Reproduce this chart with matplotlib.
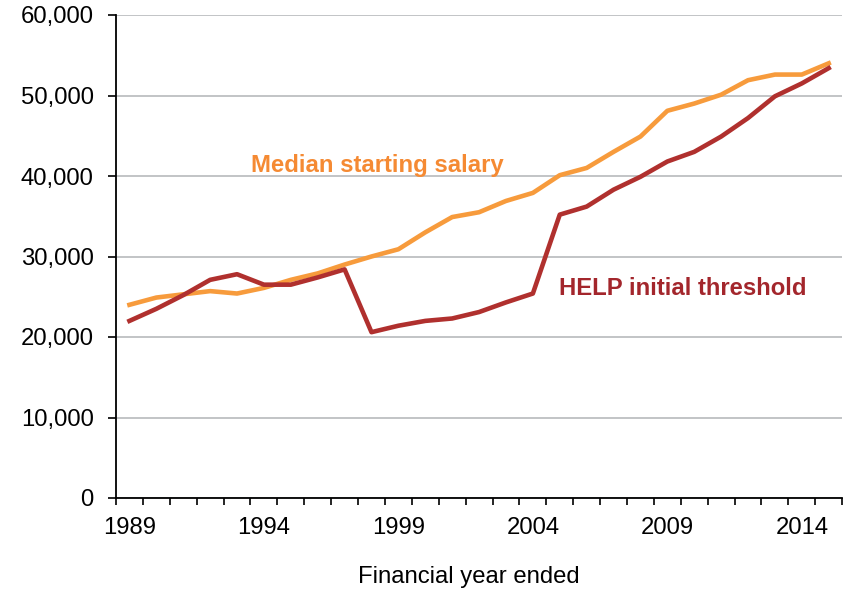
import matplotlib
matplotlib.use("Agg")
import matplotlib.pyplot as plt
from matplotlib.ticker import FuncFormatter, FixedLocator

years = list(range(1989, 2016))
median_salary = [24000, 24900, 25300, 25700, 25400, 26100, 27100, 27900, 29000, 30000,
                 30900, 33000, 34900, 35500, 36900, 37900, 40100, 41000, 43000, 44900,
                 48100, 49000, 50100, 51900, 52600, 52600, 54000]
help_threshold = [22000, 23500, 25200, 27100, 27800, 26500, 26500, 27400, 28400, 20600,
                  21400, 22000, 22300, 23100, 24300, 25400, 35200, 36200, 38300, 39900,
                  41800, 43000, 44900, 47200, 49900, 51500, 53400]
tick_labels = ["1989", "1994", "1999", "2004", "2009", "2014"]
y_ticks = [0, 10000, 20000, 30000, 40000, 50000, 60000]

plt.rcParams['font.family'] = ['Liberation Sans', 'DejaVu Sans']
FS = 17.2

fig = plt.figure(figsize=(8.43, 5.90), dpi=100)
ax = fig.add_axes([116/843, 1-498/590, 1-116/843-0.001, (498-15)/590])

idx = list(range(len(years)))
ax.plot(idx, median_salary, color="#F79B3C", lw=3.3, zorder=3)
ax.plot(idx, help_threshold, color="#B0302E", lw=3.3, zorder=3)

ax.set_xlim(-0.5, len(years) - 0.5)
ax.set_ylim(0, 60000)
ax.set_yticks(y_ticks)
ax.yaxis.set_major_formatter(FuncFormatter(lambda v, p: f"{int(v):,}"))
ax.grid(axis="y", color="#BDBFC2", lw=1.3, zorder=0)
ax.set_axisbelow(True)

label_pos = [years.index(int(t)) for t in tick_labels]
ax.xaxis.set_major_locator(FixedLocator(label_pos))
ax.set_xticklabels(tick_labels)
ax.xaxis.set_minor_locator(FixedLocator([i - 0.5 for i in range(len(years) + 1)]))
ax.tick_params(axis="x", which="major", length=0, pad=14, labelsize=FS)
ax.tick_params(axis="x", which="minor", length=5, width=1.2, direction="out")
ax.tick_params(axis="y", which="major", length=6, width=1.2, direction="out", pad=10, labelsize=FS)

for s in ["top", "right"]:
    ax.spines[s].set_visible(False)
for s in ["left", "bottom"]:
    ax.spines[s].set_linewidth(1.3)

fig.text(469/843, 1-577/590, "Financial year ended", ha="center", va="center", fontsize=FS)

ax.text(9.2, 40500, "Median starting salary", ha="center", va="baseline",
        fontsize=FS, fontweight="bold", color="#F58A33")
ax.text(20.56, 25200, "HELP initial threshold", ha="center", va="baseline",
        fontsize=FS, fontweight="bold", color="#A3262C")

fig.savefig("out.png", dpi=100)
